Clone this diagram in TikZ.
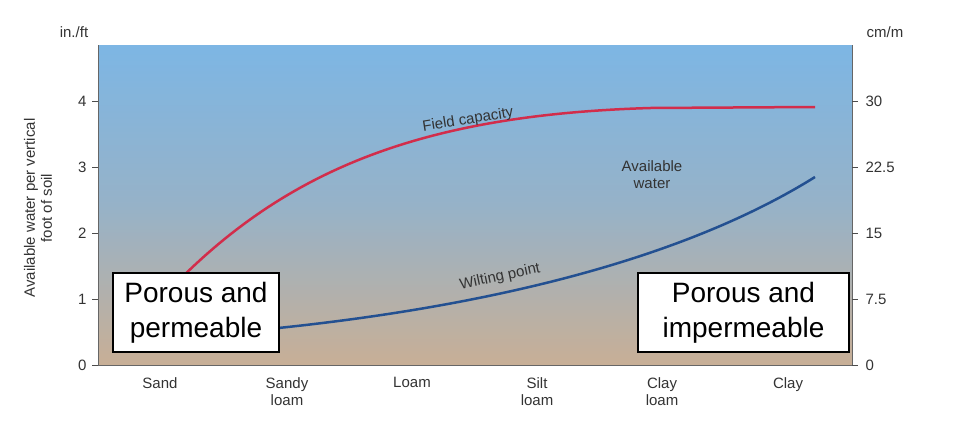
\documentclass[tikz,border=0pt]{standalone}
\usepackage{fontspec}
\setmainfont{Liberation Sans}
\begin{document}
\begin{tikzpicture}[x=1pt,y=-1pt,
  lab/.style={font=\fontsize{15}{17}\selectfont,text=black!80},
  box/.style={draw=black,line width=1.5pt,fill=white,font=\fontsize{28}{35}\selectfont,align=center,inner sep=0pt},
  tick/.style={draw=black!70,line width=0.6pt}]
\useasboundingbox (0,0) rectangle (958,426);
\shade[shading angle=35,top color={rgb,255:red,125;green,182;blue,228},bottom color={rgb,255:red,200;green,175;blue,150},middle color={rgb,255:red,150;green,178;blue,200}] (98,45) rectangle (852,365);
\draw[black!60,line width=0.6pt] (98,45) -- (98,365) -- (852,365) -- (852,45);
\foreach \v/\r [count=\i from 0] in {0/0,1/7.5,2/15,3/22.5,4/30}{
  \pgfmathsetmacro{\yy}{365-66*\i}
  \draw[tick] (92,\yy) -- (98,\yy);
  \draw[tick] (852,\yy) -- (858,\yy);
  \node[lab,anchor=east] (l\i) at (90,\yy) {\v};
  \node[lab,anchor=west] (r\i) at (862,\yy) {\r};
}
\node[lab] (u1) at (74,32) {in./ft};
\node[lab] (u2) at (885,32) {cm/m};
\node[lab,rotate=90,align=center] (yt) at (38,208) {Available water per vertical\\foot of soil};
\foreach \x/\t/\n in {160/Sand/a,287/{Sandy\\loam}/b,412/Loam/c,537/{Silt\\loam}/d,662/{Clay\\loam}/e,788/Clay/f}
  \node[lab,align=center,anchor=north] (x\n) at (\x,374) {\t};
\draw[line width=2.5pt,draw={rgb,255:red,210;green,45;blue,75}] (160,300) .. controls (280,170) and (420,115) .. (650,108) -- (815,107);
\draw[line width=2.5pt,draw={rgb,255:red,35;green,80;blue,145}] (200,335) .. controls (400,320) and (650,280) .. (815,177);
\node[lab,rotate=9] (fc) at (468,120) {Field capacity};
\node[lab,rotate=12] (wp) at (500,277) {Wilting point};
\node[lab,align=center] (aw) at (652,175) {Available\\water};
\node[box,minimum width=166pt,minimum height=79pt] (b1) at (196,312.5) {Porous and\\permeable};
\node[box,minimum width=211pt,minimum height=79pt] (b2) at (743.5,312.5) {Porous and\\impermeable};
\end{tikzpicture}
\end{document}
